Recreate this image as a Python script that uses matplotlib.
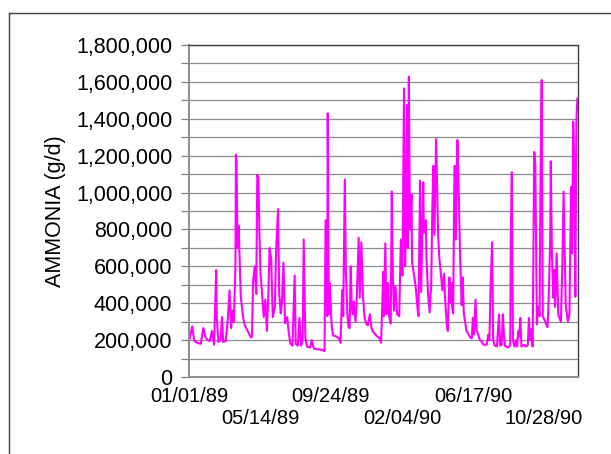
import numpy as np
import pandas as pd
import matplotlib
matplotlib.use("Agg")
import matplotlib.pyplot as plt
from matplotlib.lines import Line2D
from matplotlib.ticker import MultipleLocator, FuncFormatter

plt.rcParams['font.family'] = ['Liberation Sans', 'DejaVu Sans']

# days since 01/01/89
day = [1, 6, 10, 16, 22, 27, 31, 35, 39, 43, 47, 51, 52, 55, 59, 62, 64, 69, 73, 76,
       79, 82, 84, 87, 88, 89, 91, 93, 95, 97, 101, 104, 110, 116, 118, 120, 123, 126, 128, 130,
       132, 134, 137, 140, 143, 146, 149, 151, 154, 157, 161, 163, 167, 169, 172, 174, 177, 180, 184, 187,
       190, 194, 198, 200, 204, 207, 210, 213, 215, 218, 221, 227, 230, 234, 240, 245, 251, 254, 256, 259,
       260, 262, 264, 267, 270, 276, 281, 284, 287, 289, 292, 294, 297, 299, 301, 303, 305, 307, 309, 312,
       314, 318, 320, 323, 326, 329, 332, 335, 339, 342, 345, 351, 357, 360, 364, 365, 368, 370, 373, 375,
       378, 380, 382, 384, 387, 390, 394, 397, 400, 403, 405, 407, 409, 410, 412, 414, 417, 418, 422, 425,
       428, 430, 433, 435, 439, 440, 444, 445, 448, 451, 454, 456, 458, 460, 463, 467, 469, 472, 475, 478,
       480, 483, 485, 488, 490, 492, 493, 495, 497, 498, 500, 503, 505, 508, 511, 513, 515, 518, 520, 523,
       527, 530, 532, 534, 537, 539, 542, 545, 549, 552, 558, 561, 563, 565, 568, 570, 573, 577, 581, 583,
       586, 588, 590, 592, 598, 602, 603, 605, 607, 610, 613, 615, 617, 619, 621, 623, 628, 632, 635, 637,
       639, 642, 644, 647, 649, 652, 654, 657, 659, 661, 663, 666, 669, 672, 674, 677, 678, 680, 683, 685,
       686, 689, 692, 694, 697, 700, 702, 705, 706, 710, 713, 716, 718, 720, 722, 724, 726, 728]

# ammonia load, thousands of g/d
load_k = [205, 275, 195, 185, 180, 265, 215, 200, 195, 250, 175, 580, 330, 190, 200, 325, 190, 195, 325, 470,
          265, 360, 300, 597, 1205, 1180, 700, 820, 630, 440, 330, 285, 250, 215, 218, 510, 600, 450, 1095, 1080,
          780, 560, 450, 325, 420, 250, 470, 700, 640, 325, 380, 670, 910, 450, 345, 400, 620, 290, 325, 240,
          180, 170, 550, 180, 170, 320, 170, 200, 745, 215, 165, 160, 200, 155, 150, 150, 145, 140, 850, 330,
          1430, 340, 510, 290, 225, 220, 210, 185, 470, 330, 1070, 570, 330, 270, 265, 600, 380, 340, 410, 300,
          390, 755, 430, 730, 440, 320, 290, 280, 340, 265, 245, 225, 210, 185, 570, 330, 725, 340, 510, 330,
          290, 1005, 560, 360, 490, 340, 330, 745, 550, 1565, 600, 980, 1475, 700, 1628, 800, 990, 620, 550, 480,
          380, 330, 1065, 460, 1055, 780, 850, 650, 450, 350, 510, 920, 1145, 770, 1290, 760, 650, 560, 470, 560,
          420, 290, 250, 540, 400, 510, 380, 345, 1000, 1145, 745, 1285, 1065, 650, 390, 540, 345, 290, 250, 235,
          215, 210, 320, 230, 420, 250, 230, 200, 190, 175, 175, 230, 200, 470, 730, 200, 170, 165, 340, 170,
          175, 340, 235, 170, 160, 170, 760, 1110, 200, 165, 200, 165, 250, 220, 320, 165, 175, 165, 175, 320,
          200, 260, 165, 1220, 1150, 285, 380, 330, 1160, 1610, 330, 310, 290, 270, 420, 760, 1170, 680, 430, 580,
          380, 670, 340, 320, 300, 650, 1005, 560, 390, 300, 340, 1030, 670, 1385, 1150, 435, 1395, 1510]

tick_dates = ['01/01/89', '05/14/89', '09/24/89', '02/04/90', '06/17/90', '10/28/90']

start = pd.Timestamp('1989-01-01')
dates = start + pd.to_timedelta(day, unit='D')
load = np.array(load_k) * 1000

fig = plt.figure(figsize=(6.11, 4.54), dpi=100)
ax = fig.add_axes([189 / 611, 77 / 454, 389 / 611, 332 / 454])

ax.plot(dates, load, color='#ff00ff', lw=1.5)

ax.set_ylim(0, 1800000)
ax.yaxis.set_major_locator(MultipleLocator(200000))
ax.yaxis.set_minor_locator(MultipleLocator(100000))
ax.yaxis.set_major_formatter(FuncFormatter(lambda v, p: f'{v:,.0f}'))
ax.grid(True, which='both', axis='y', color='#8c8c8c', lw=0.9)
ax.set_axisbelow(True)

ax.set_xlim(start, pd.Timestamp('1990-12-31'))
tpos = [pd.to_datetime(t, format='%m/%d/%y') for t in tick_dates]
ax.set_xticks(tpos)
ax.set_xticklabels([t if i % 2 == 0 else '\n' + t for i, t in enumerate(tick_dates)])

ax.tick_params(axis='y', which='both', length=6, width=0.9, color='#808080', pad=6, labelsize=15.5)
ax.tick_params(axis='x', length=0, pad=7, labelsize=14.5)

for s in ['left', 'bottom']:
    ax.spines[s].set_color('#909090')
    ax.spines[s].set_linewidth(1.5)
for s in ['top', 'right']:
    ax.spines[s].set_color('#404040')
    ax.spines[s].set_linewidth(1.0)

fig.text(55 / 611, 1 - 211 / 454, 'AMMONIA (g/d)', rotation=90, ha='center', va='center', fontsize=15.5)

# outer frame of the figure panel
fig.add_artist(Line2D([9 / 611, 9 / 611], [0, 1 - 13 / 454], color='#404040', lw=1.0, transform=fig.transFigure))
fig.add_artist(Line2D([9 / 611, 1], [1 - 13 / 454, 1 - 13 / 454], color='#404040', lw=1.0, transform=fig.transFigure))

fig.savefig('out.png', dpi=100)
